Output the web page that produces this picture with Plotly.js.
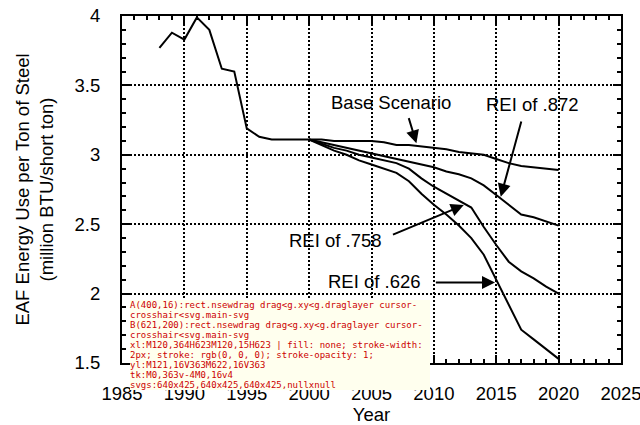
<!DOCTYPE html>
<html><head><meta charset="utf-8">
<script src="https://cdn.plot.ly/plotly-3.0.1.min.js"></script>
<style>body{margin:0;padding:0;background:#fff;overflow:hidden}</style>
</head><body><div id="chart" style="width:640px;height:425px"></div>
<div id="dbg" style="position:absolute;left:130px;top:300px;width:300px;font:9px monospace;color:#c00;background:#ffe;white-space:pre-wrap"></div>
<script>
const histYears = [1988,1989,1990,1991,1992,1993,1994,1995,1996,1997,1998,1999,2000];
const histValues = [3.77,3.88,3.83,3.99,3.90,3.62,3.60,3.19,3.13,3.11,3.11,3.11,3.11];
const projYears = [2000,2001,2002,2003,2004,2005,2006,2007,2008,2009,2010,2011,2012,2013,2014,2015,2016,2017,2018,2019,2020];
const baseValues = [3.11,3.11,3.10,3.10,3.10,3.10,3.09,3.07,3.07,3.06,3.05,3.04,3.02,3.01,3.00,2.97,2.94,2.92,2.91,2.90,2.89];
const rei872Values = [3.11,3.09,3.07,3.05,3.03,3.01,2.99,2.97,2.95,2.93,2.91,2.88,2.86,2.83,2.78,2.71,2.64,2.57,2.55,2.52,2.49];
const rei758Values = [3.11,3.08,3.05,3.03,3.00,2.98,2.96,2.94,2.90,2.83,2.77,2.72,2.67,2.62,2.48,2.35,2.23,2.16,2.11,2.05,2.00];
const rei626Values = [3.11,3.07,3.03,3.00,2.96,2.93,2.90,2.87,2.81,2.72,2.64,2.57,2.49,2.40,2.28,2.10,1.92,1.74,1.67,1.60,1.53];
const xTicks = [1985,1990,1995,2000,2005,2010,2015,2020,2025];
const yTicks = [1.5,2,2.5,3,3.5,4];
const labels = ["Base Scenario","REI of .872","REI of .758","REI of .626"];

const line = {color:'#000', width:2};
const traces = [
  {x:histYears, y:histValues, mode:'lines', line:line},
  {x:projYears, y:baseValues, mode:'lines', line:line},
  {x:projYears, y:rei872Values, mode:'lines', line:line},
  {x:projYears, y:rei758Values, mode:'lines', line:line},
  {x:projYears, y:rei626Values, mode:'lines', line:line}
];
const font = {family:'Liberation Sans, Arial, sans-serif', size:18.5, color:'#000'};
function arrow(x, y, ax, ay){
  return {x:x, y:y, ax:ax, ay:ay, xref:'x', yref:'y', axref:'x', ayref:'y',
    showarrow:true, arrowhead:2, arrowsize:1.3, arrowwidth:2, arrowcolor:'#000', text:''};
}
function label(t, x, y){
  return {x:x, y:y, xref:'x', yref:'y', text:t, showarrow:false, font:font};
}
const layout = {
  width:640, height:425,
  margin:{l:122, r:19, t:16, b:62},
  paper_bgcolor:'#fff', plot_bgcolor:'#fff',
  showlegend:false,
  font:font,
  xaxis:{range:[1985,2025], tickvals:xTicks, ticktext:xTicks.map(String),
    ticks:'inside', ticklen:8, tickwidth:2, tickcolor:'#000',
    minor:{dtick:1, ticks:'inside', ticklen:4, tickwidth:2, tickcolor:'#000', showgrid:false},
    showline:true, linecolor:'#000', linewidth:2, mirror:'ticks',
    showgrid:true, gridcolor:'#000', gridwidth:2, griddash:'2px,2px',
    zeroline:false, ticklabelstandoff:13, ticklabeloverflow:'allow',
    title:{text:'Year', font:font, standoff:0}},
  yaxis:{range:[1.5,4], tickvals:yTicks, ticktext:yTicks.map(String),
    ticks:'inside', ticklen:8, tickwidth:2, tickcolor:'#000',
    minor:{dtick:0.1, ticks:'inside', ticklen:4, tickwidth:2, tickcolor:'#000', showgrid:false},
    showline:true, linecolor:'#000', linewidth:2, mirror:'ticks',
    showgrid:true, gridcolor:'#000', gridwidth:2, griddash:'2px,2px',
    zeroline:false, ticklabelstandoff:16, ticklabeloverflow:'allow',
    title:{text:'EAF Energy Use per Ton of Steel<br>(million BTU/short ton)', font:font, standoff:16}},
  annotations:[
    label(labels[0], 2006.6, 3.377),
    arrow(2008.6, 3.083, 2007.95, 3.275),
    label(labels[1], 2017.87, 3.366),
    arrow(2015.36, 2.698, 2017.04, 3.25),
    label(labels[2], 2002.15, 2.379),
    arrow(2012.4, 2.638, 2006.6, 2.42),
    label(labels[3], 2005.28, 2.086),
    arrow(2014.9, 2.08, 2010.04, 2.08)
  ]
};
Plotly.newPlot('chart', traces, layout, {displayModeBar:false}).then(function(){
  var d = document.getElementById('dbg');
  function desc(el){ var s=[]; while(el && s.length<4){ s.push(el.tagName + '.' + (el.getAttribute('class')||'')); el = el.parentElement;} return s.join('<'); }
  d.textContent += 'A(400,16):' + desc(document.elementFromPoint(400,16)) + '\n';
  d.textContent += 'B(621,200):' + desc(document.elementFromPoint(621,200)) + '\n';
  var xl = document.querySelector('.xlines-above');
  d.textContent += 'xl:' + (xl ? xl.getAttribute('d') + ' | ' + xl.getAttribute('style') : 'none') + '\n';
  var yl = document.querySelector('.ylines-above');
  d.textContent += 'yl:' + (yl ? yl.getAttribute('d') : 'none') + '\n';
  var tk = document.querySelector('path.xtick');
  d.textContent += 'tk:' + (tk ? tk.getAttribute('d') : 'none') + '\n';
  var svgs = document.querySelectorAll('svg');
  d.textContent += 'svgs:' + Array.from(svgs).map(s=>s.getAttribute('width')+'x'+s.getAttribute('height')).join(',');
});
</script></body></html>
